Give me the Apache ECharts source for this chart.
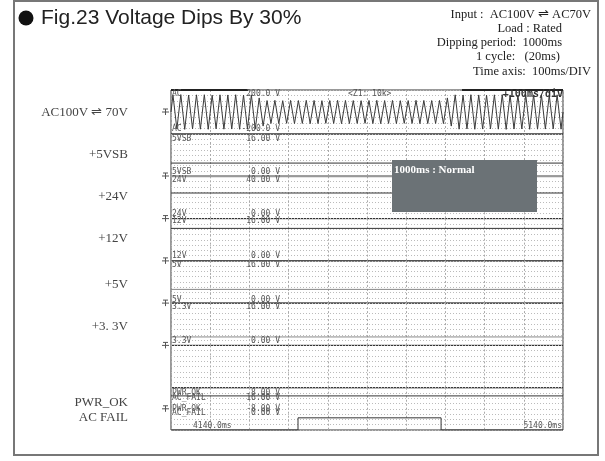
<!DOCTYPE html>
<html>
<head>
<meta charset="utf-8">
<script src="https://cdn.jsdelivr.net/npm/echarts@6/dist/echarts.min.js"></script>
<style>
html, body { margin: 0; padding: 0; background: #fff; }
#main { width: 605px; height: 461px; }
</style>
</head>
<body>
<div id="main"></div>
<script>
// time window: 100ms/div, 10 div
var timeMin = 0
var timeMax = 1000
var timeStep = 100

// AC input peak volts, one value per 20ms cycle
var acPeak = [
    155, 158, 154, 156, 157, 153, 156, 155, 157, 154, 156,
    128,
    104, 106, 103, 105, 104, 106, 105, 103, 104, 106, 105, 104,
    103, 105, 106, 104, 105, 103, 104, 106, 105, 104, 105,
    128,
    156, 154, 157, 155, 153, 156, 158, 155, 154, 157, 156, 155, 153, 156
]

// DC rails, flat over the window
var rail5vsb = [[0, 5.0], [1000, 5.0]]
var rail24v = [[0, 24.2], [1000, 24.2]]
var rail12v = [[0, 12.3], [1000, 12.3]]
var rail5v = [[0, 5.2], [1000, 5.2]]
var rail3v3 = [[0, 3.2], [1000, 3.2]]
var pwrOk = [[0, 4.9], [1000, 4.9]]
var acFail = [[0, 0], [324, 0], [324, 4.6], [689, 4.6], [689, 0], [1000, 0]]

// channel ranges (scope settings)
var chanName = ['AC', '5VSB', '24V', '12V', '5V', '3.3V', '', 'PWR_OK']
var chanMin = [-200, 0, 0, 0, 0, 0, 0, -8]
var chanMax = [200, 16, 40, 16, 16, 16, 16, 8]
var chanTopLabel = ['200.0 V', '16.00 V', '40.00 V', '16.00 V', '16.00 V', '16.00 V', '', '8.00 V']
var chanBotLabel = ['-200.0 V', '0.00 V', '0.00 V', '0.00 V', '0.00 V', '0.00 V', '', '-8.00 V']

// left side names
var railNames = ['AC100V \u21CC 70V', '+5VSB', '+24V', '+12V', '+5V', '+3. 3V']
var infoLines = ['Input :  AC100V \u21CC AC70V', 'Load : Rated', 'Dipping period:  1000ms', '1 cycle:   (20ms)', 'Time axis:  100ms/DIV']

var chart = echarts.init(document.getElementById('main'))

// plot layout
var plotLeft = 171
var plotWidth = 392
var bandTop = [90, 134, 176.3, 218.6, 260.9, 303.1, 345.4, 387.7]
var bandH = [44, 42.3, 42.3, 42.3, 42.2, 42.3, 42.3, 42.3]

var acData = [[0, 0]]
for (var i = 0; i < acPeak.length; i++) {
    acData.push([i * 20 + 5, acPeak[i]])
    acData.push([i * 20 + 15, -acPeak[i]])
}
acData.push([1000, 0])

var grids = [], xAxes = [], yAxes = []
for (var k = 0; k < bandTop.length; k++) {
    grids.push({
        left: plotLeft, width: plotWidth, top: bandTop[k], height: bandH[k],
        show: true, borderColor: '#333', borderWidth: 1, backgroundColor: 'transparent'
    })
    xAxes.push({
        type: 'value', gridIndex: k, min: timeMin, max: timeMax, interval: timeStep,
        axisLabel: { show: false }, axisTick: { show: false }, axisLine: { show: false },
        splitLine: { show: true, lineStyle: { color: '#aaa', type: [2, 2], width: 1 } }
    })
    yAxes.push({
        type: 'value', gridIndex: k, min: chanMin[k], max: chanMax[k],
        interval: (chanMax[k] - chanMin[k]) / 8,
        axisLabel: { show: false }, axisTick: { show: false }, axisLine: { show: false },
        splitLine: { show: true, lineStyle: { color: '#bbb', type: [1, 2], width: 1 } }
    })
}
// second y axis for AC_FAIL in the last band
yAxes.push({
    type: 'value', gridIndex: 7, min: 0, max: 16, position: 'right',
    axisLabel: { show: false }, axisTick: { show: false }, axisLine: { show: false },
    splitLine: { show: false }
})

function line(data, xi, yi, color) {
    return {
        type: 'line', data: data, xAxisIndex: xi, yAxisIndex: yi,
        symbol: 'none', silent: true, animation: false,
        lineStyle: { color: color, width: 1 }
    }
}

var series = [
    line(acData, 0, 0, '#3a3a3a'),
    line(rail5vsb, 1, 1, '#333'),
    line(rail24v, 2, 2, '#333'),
    line(rail12v, 3, 3, '#333'),
    line(rail5v, 4, 4, '#888'),
    line(rail3v3, 5, 5, '#888'),
    line(pwrOk, 7, 7, '#333'),
    line(acFail, 7, 8, '#333')
]

// texts
var g = []
var mono = '8px "DejaVu Sans Mono"'
function t(s, x, y, font, fill, align, z) {
    g.push({ type: 'text', x: x, y: y, silent: true, z: z || 10,
        style: { text: s, font: font, fill: fill, align: align || 'left', verticalAlign: 'middle' } })
}
var topOff = [3.5, 4.5, 3.2, 2.4, 3.6, 3.9, 0, 4.8]
var botOff = [5.5, 4, 4.6, 4.9, 3.4, 4.4, 0, 21.5]
for (var k = 0; k < bandTop.length; k++) {
    if (!chanName[k]) continue
    var yt = bandTop[k] + topOff[k]
    var yb = bandTop[k] + bandH[k] - botOff[k]
    t(chanName[k], 172, yt, mono, '#555')
    t(chanTopLabel[k], 280, yt, mono, '#555', 'right')
    t(chanName[k], 172, yb, mono, '#555')
    t(chanBotLabel[k], 280, yb, mono, '#555', 'right')
}
t('AC_FAIL', 172, 397.5, mono, '#555')
t('16.00 V', 280, 397.5, mono, '#555', 'right')
t('AC_FAIL', 172, 412.5, mono, '#555')
t('0.00 V', 280, 412.5, mono, '#555', 'right')
t('<Z1: 10k>', 348, 93.5, mono, '#555')
t('4140.0ms', 193, 426, mono, '#555')
t('5140.0ms', 562, 426, mono, '#555', 'right')
t('+100ms/div', 563, 94, 'bold 10px "DejaVu Sans Mono"', '#333', 'right')

// left rail names
var serif = '13px "Liberation Serif"'
var railY = [113, 155, 197, 238.5, 284.5, 327]
for (var i = 0; i < railNames.length; i++) t(railNames[i], 128, railY[i], serif, '#444', 'right')
t('PWR_OK', 128, 403, serif, '#444', 'right')
t('AC FAIL', 128, 417.5, serif, '#444', 'right')

// title and info block
g.push({ type: 'circle', shape: { cx: 26, cy: 18, r: 7.5 }, style: { fill: '#111' }, silent: true })
t('Fig.23 Voltage Dips By 30%', 41, 18, '21px "Liberation Sans"', '#222')
var infoRight = [591, 562, 562, 560, 591]
var infoY = [15, 29, 43, 57, 72]
for (var i = 0; i < infoLines.length; i++) t(infoLines[i], infoRight[i], infoY[i], '12.5px "Liberation Serif"', '#222', 'right')

// thick top bars of the scope screen
g.push({ type: 'rect', shape: { x: 171, y: 89, width: 77, height: 2 }, style: { fill: '#222' }, silent: true, z: 6 })
g.push({ type: 'rect', shape: { x: 462, y: 89, width: 101, height: 2 }, style: { fill: '#222' }, silent: true, z: 6 })
// grey separator between 5VSB and 24V
g.push({ type: 'rect', shape: { x: 171.5, y: 175.3, width: 391, height: 2 }, style: { fill: '#999' }, silent: true, z: 6 })

// note box, on top of the traces
g.push({ type: 'rect', shape: { x: 392, y: 160, width: 145, height: 52 }, style: { fill: '#6b7276' }, silent: true, z: 8 })
t('1000ms : Normal', 394, 170, 'bold 11px "Liberation Serif"', '#fff', 'left', 12)

// ground marks at each zero level
var gndY = [112, 176, 218.6, 260.9, 303.1, 345.4, 408.8]
for (var i = 0; i < gndY.length; i++) {
    var y = gndY[i]
    g.push({ type: 'polyline', silent: true, shape: { points: [[163, y - 3], [168, y - 3]] }, style: { stroke: '#555', lineWidth: 1 } })
    g.push({ type: 'polyline', silent: true, shape: { points: [[165.5, y - 3], [165.5, y + 3]] }, style: { stroke: '#555', lineWidth: 1 } })
    g.push({ type: 'polyline', silent: true, shape: { points: [[162, y], [169, y]] }, style: { stroke: '#555', lineWidth: 1 } })
}

// outer frame
g.push({ type: 'rect', shape: { x: 14, y: 1, width: 584, height: 454 }, style: { fill: 'none', stroke: '#777', lineWidth: 2 }, silent: true })

chart.setOption({
    animation: false,
    backgroundColor: '#fff',
    grid: grids,
    xAxis: xAxes,
    yAxis: yAxes,
    series: series,
    graphic: g
})
</script>
</body>
</html>
